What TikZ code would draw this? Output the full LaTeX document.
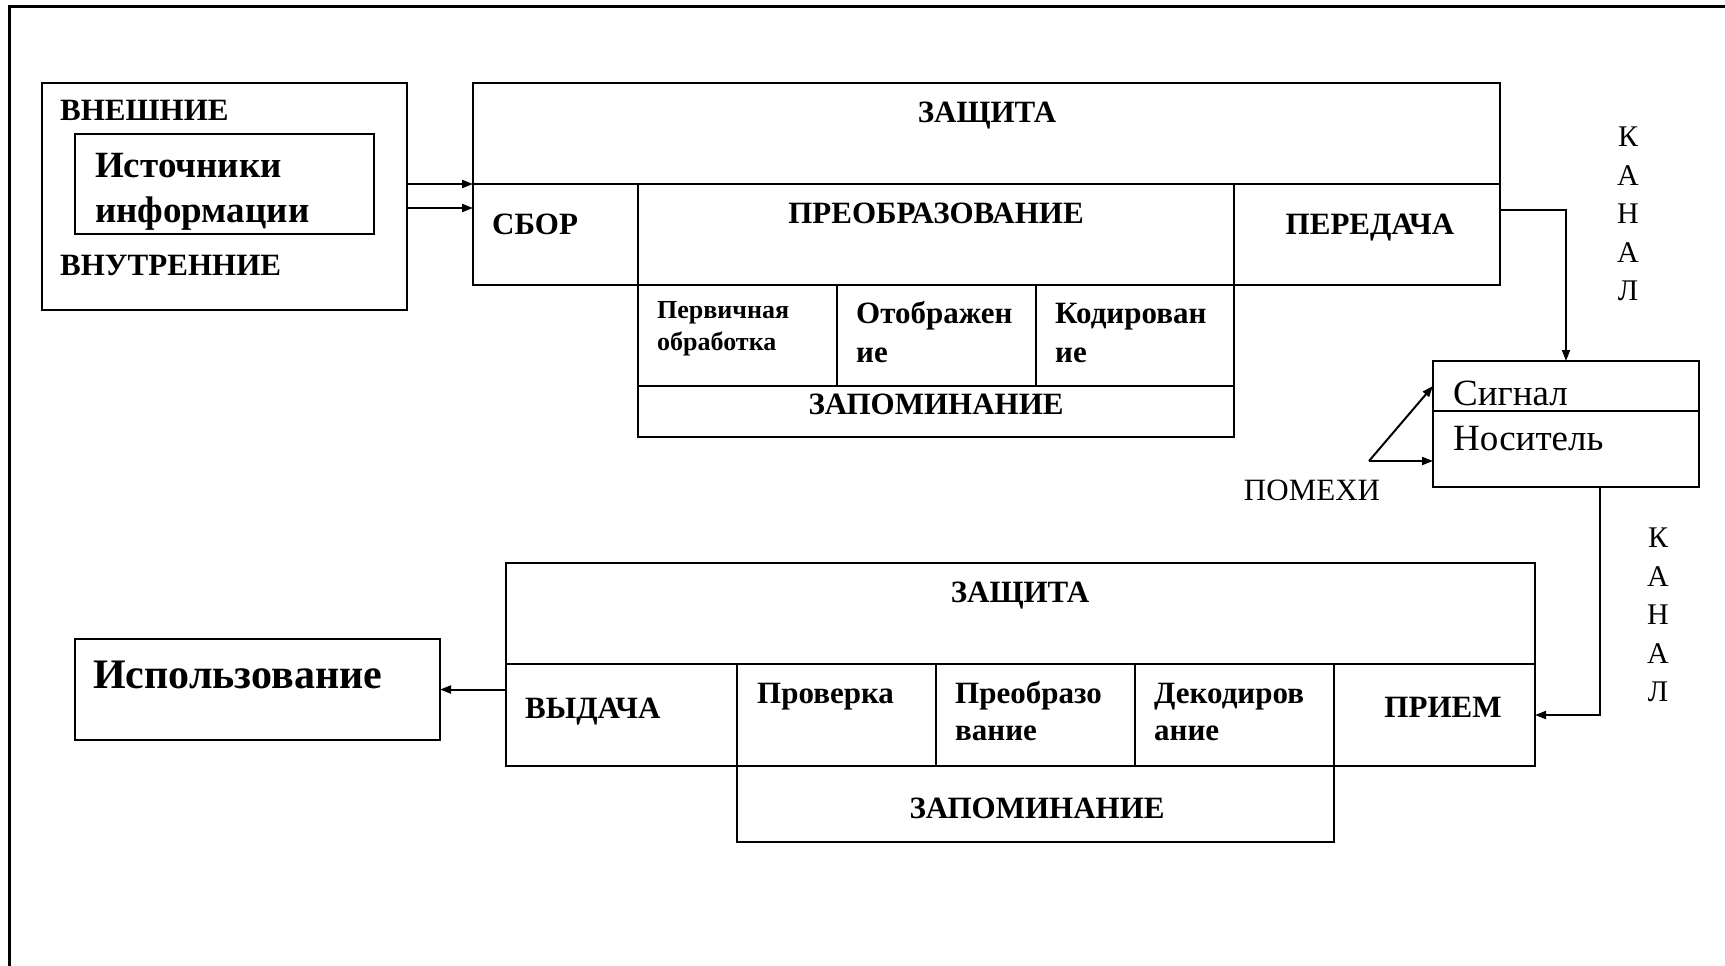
\documentclass[tikz,border=0pt]{standalone}
\usepackage{fontspec}
\setmainfont{Liberation Serif}
\usetikzlibrary{arrows.meta,calc}

\begin{document}
\begin{tikzpicture}[x=1pt,y=-1pt,
  box/.style={draw, line width=2pt, inner sep=0pt, outer sep=0pt, anchor=north west},
  lbl/.style={inner sep=0pt, font=\bfseries\fontsize{31}{36}\selectfont},
  small/.style={inner sep=0pt, font=\bfseries\fontsize{26}{30}\selectfont},
  big/.style={inner sep=0pt, font=\bfseries\fontsize{37}{42}\selectfont},
  huge/.style={inner sep=0pt, font=\bfseries\fontsize{42}{48}\selectfont},
  rlbl/.style={inner sep=0pt, font=\fontsize{31}{36}\selectfont},
  rbig/.style={inner sep=0pt, font=\fontsize{37}{42}\selectfont},
  vert/.style={inner sep=0pt, align=center, anchor=north, font=\fontsize{30}{38.5}\selectfont},
  arr/.style={line width=2pt, -{Triangle[length=11pt,width=8pt]}},
  con/.style={line width=2pt}]

\useasboundingbox (0,0) rectangle (1725,966);
\fill[white] (0,0) rectangle (1725,966);
\draw[line width=3pt] (1725,7) -- (9,7) -- (9,966);

% source
\node[box, minimum width=365, minimum height=227] (src) at (42,83) {};
\node[box, minimum width=299, minimum height=100] (srcin) at (75,134) {};
\node[lbl, anchor=base west] (t-vn) at (60,121) {ВНЕШНИЕ};
\node[big, anchor=base west] (t-ist1) at (95,177) {Источники};
\node[big, anchor=base west] (t-ist2) at (95,222) {информации};
\node[lbl, anchor=base west] (t-vnut) at (60,275) {ВНУТРЕННИЕ};

% top block
\node[box, minimum width=1027, minimum height=101] (zas) at (473,83) {};
\node[box, minimum width=165, minimum height=101] (sbor) at (473,184) {};
\node[box, minimum width=596, minimum height=101] (preob) at (638,184) {};
\node[box, minimum width=266, minimum height=101] (pered) at (1234,184) {};
\node[box, minimum width=199, minimum height=101] (perv) at (638,285) {};
\node[box, minimum width=199, minimum height=101] (otob) at (837,285) {};
\node[box, minimum width=198, minimum height=101] (kod) at (1036,285) {};
\node[box, minimum width=596, minimum height=51] (zap) at (638,386) {};

\node[lbl, anchor=base] (t-zas) at (987,122) {ЗАЩИТА};
\node[lbl, anchor=base west] (t-sbor) at (492,234) {СБОР};
\node[lbl, anchor=base] (t-preob) at (936,223) {ПРЕОБРАЗОВАНИЕ};
\node[lbl, anchor=base] (t-pered) at (1370,234) {ПЕРЕДАЧА};
\node[small, anchor=base west] (t-perv1) at (657,318) {Первичная};
\node[small, anchor=base west] (t-perv2) at (657,350) {обработка};
\node[lbl, anchor=base west] (t-otob1) at (856,323) {Отображен};
\node[lbl, anchor=base west] (t-otob2) at (856,362) {ие};
\node[lbl, anchor=base west] (t-kod1) at (1055,323) {Кодирован};
\node[lbl, anchor=base west] (t-kod2) at (1055,362) {ие};
\node[lbl, anchor=base] (t-zap) at (936,414) {ЗАПОМИНАНИЕ};

% signal box
\node[box, minimum width=266, minimum height=50] (sig) at (1433,361) {};
\node[box, minimum width=266, minimum height=76] (nos) at (1433,411) {};
\node[rbig, anchor=base west] (t-sig) at (1453,405) {Сигнал};
\node[rbig, anchor=base west] (t-nos) at (1453,450) {Носитель};
\node[rlbl, anchor=base] (t-pom) at (1312,500) {ПОМЕХИ};
\node[vert] (t-kan1) at (1628,127) {К\\А\\Н\\А\\Л};
\node[vert] (t-kan2) at (1658,528) {К\\А\\Н\\А\\Л};

% bottom block
\node[box, minimum width=1029, minimum height=101] (zas2) at (506,563) {};
\node[box, minimum width=231, minimum height=102] (vyd) at (506,664) {};
\node[box, minimum width=199, minimum height=102] (prov) at (737,664) {};
\node[box, minimum width=199, minimum height=102] (preob2) at (936,664) {};
\node[box, minimum width=199, minimum height=102] (dek) at (1135,664) {};
\node[box, minimum width=201, minimum height=102] (priem) at (1334,664) {};
\node[box, minimum width=597, minimum height=76] (zap2) at (737,766) {};
\node[box, minimum width=365, minimum height=101] (isp) at (75,639) {};

\node[lbl, anchor=base] (t-zas2) at (1020,602) {ЗАЩИТА};
\node[lbl, anchor=base west] (t-vyd) at (525,718) {ВЫДАЧА};
\node[lbl, anchor=base west] (t-prov) at (757,703) {Проверка};
\node[lbl, anchor=base west] (t-preob2a) at (955,703) {Преобразо};
\node[lbl, anchor=base west] (t-preob2b) at (955,740) {вание};
\node[lbl, anchor=base west] (t-deka) at (1154,703) {Декодиров};
\node[lbl, anchor=base west] (t-dekb) at (1154,740) {ание};
\node[lbl, anchor=base] (t-priem) at (1443,717) {ПРИЕМ};
\node[lbl, anchor=base] (t-zap2) at (1037,818) {ЗАПОМИНАНИЕ};
\node[huge, anchor=base west] (t-isp) at (93,688) {Использование};

% connectors
\coordinate (in2) at ($(sbor.north west)+(0,24)$);
\draw[arr] (src.east |- sbor.north) -- (sbor.north west);
\draw[arr] (src.east |- in2) -- (in2);

\coordinate (kout) at ($(pered.north east)+(0,26)$);
\draw[arr] (kout) -- (kout -| sig.north) -- (sig.north);

\coordinate (pm) at (1369,461);
\draw[arr] (pm) -- (sig.west);
\draw[arr] (pm) -- (pm -| nos.west);

\coordinate (kdown) at ($(nos.south west)+(167,0)$);
\draw[arr] (kdown) -- (kdown |- priem.east) -- (priem.east);

\draw[arr] (vyd.west |- isp.east) -- (isp.east);
\end{tikzpicture}
\end{document}
